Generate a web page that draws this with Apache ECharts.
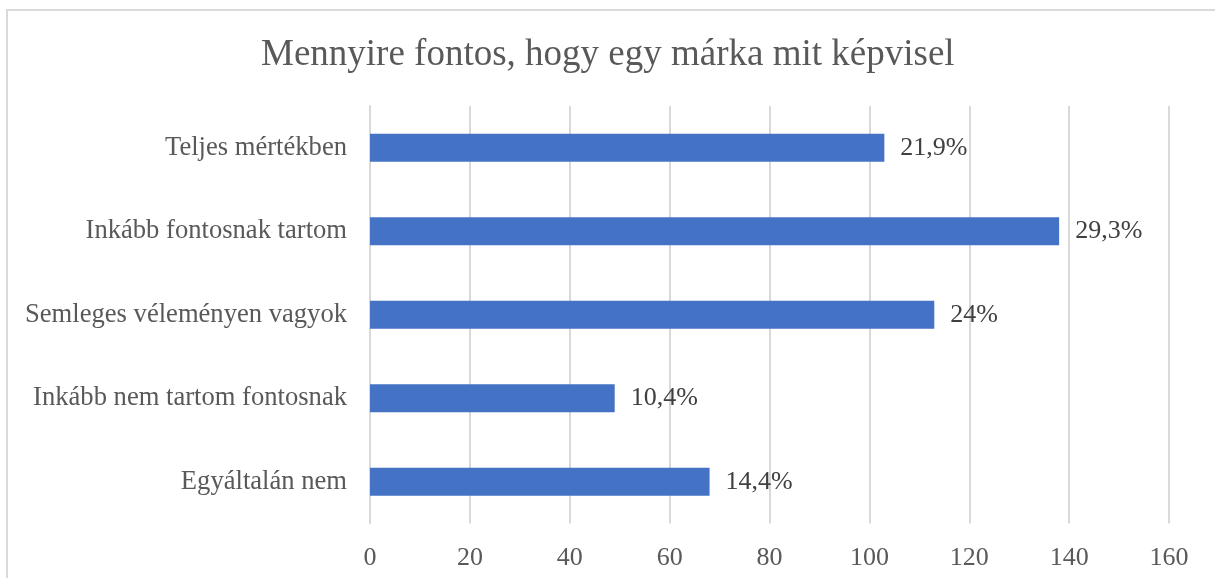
<!DOCTYPE html>
<html>
<head>
<meta charset="utf-8">
<title>Mennyire fontos, hogy egy márka mit képvisel</title>
<script src="https://cdn.jsdelivr.net/npm/echarts@6/dist/echarts.min.js"></script>
<style>
  html, body { margin: 0; padding: 0; background: #fff; }
  #chart { width: 1215px; height: 578px; }
</style>
</head>
<body>
<div id="chart"></div>
<script>
// Answer categories, listed top to bottom
const categories = [
  'Teljes mértékben',
  'Inkább fontosnak tartom',
  'Semleges véleményen vagyok',
  'Inkább nem tartom fontosnak',
  'Egyáltalán nem'
];
// Number of respondents per answer
const counts = [103, 138, 113, 49, 68];
// Share labels shown next to each bar
const shareLabels = ['21,9%', '29,3%', '24%', '10,4%', '14,4%'];
// Value axis ticks
const axisMin = 0;
const axisMax = 160;
const axisStep = 20;

const FONT = '"Liberation Serif", "Times New Roman", serif';

const chart = echarts.init(document.getElementById('chart'), null, { renderer: 'canvas' });

chart.setOption({
  animation: false,
  backgroundColor: '#ffffff',
  graphic: [{
    type: 'rect',
    silent: true,
    shape: { x: 7, y: 10, width: 1400, height: 800 },
    style: { fill: 'none', stroke: '#d9d9d9', lineWidth: 2 }
  }],
  title: {
    text: 'Mennyire fontos, hogy egy márka mit képvisel',
    left: 256,
    top: 32,
    textStyle: { fontFamily: FONT, fontSize: 37, fontWeight: 'normal', color: '#595959' }
  },
  grid: { left: 370, right: 46, top: 106, bottom: 54.5, containLabel: false },
  xAxis: {
    type: 'value',
    min: axisMin,
    max: axisMax,
    interval: axisStep,
    axisLine: { show: false },
    axisTick: { show: false },
    splitLine: { show: true, lineStyle: { color: '#d9d9d9', width: 2 } },
    axisLabel: {
      fontFamily: FONT, fontSize: 26, color: '#595959',
      margin: 20, lineHeight: 30
    }
  },
  yAxis: {
    type: 'category',
    data: categories,
    inverse: true,
    axisLine: { show: true, lineStyle: { color: '#d9d9d9', width: 2 } },
    axisTick: { show: false },
    axisLabel: {
      fontFamily: FONT, fontSize: 26.6, color: '#595959', margin: 23,
      padding: [7, 0, 0, 0]
    }
  },
  series: [{
    type: 'bar',
    data: counts,
    barWidth: 28,
    itemStyle: { color: '#4472c4' },
    label: {
      show: true,
      position: 'right',
      distance: 16,
      fontFamily: FONT,
      fontSize: 26,
      color: '#404040',
      padding: [7, 0, 0, 0],
      formatter: p => shareLabels[p.dataIndex]
    }
  }]
});
</script>
</body>
</html>
